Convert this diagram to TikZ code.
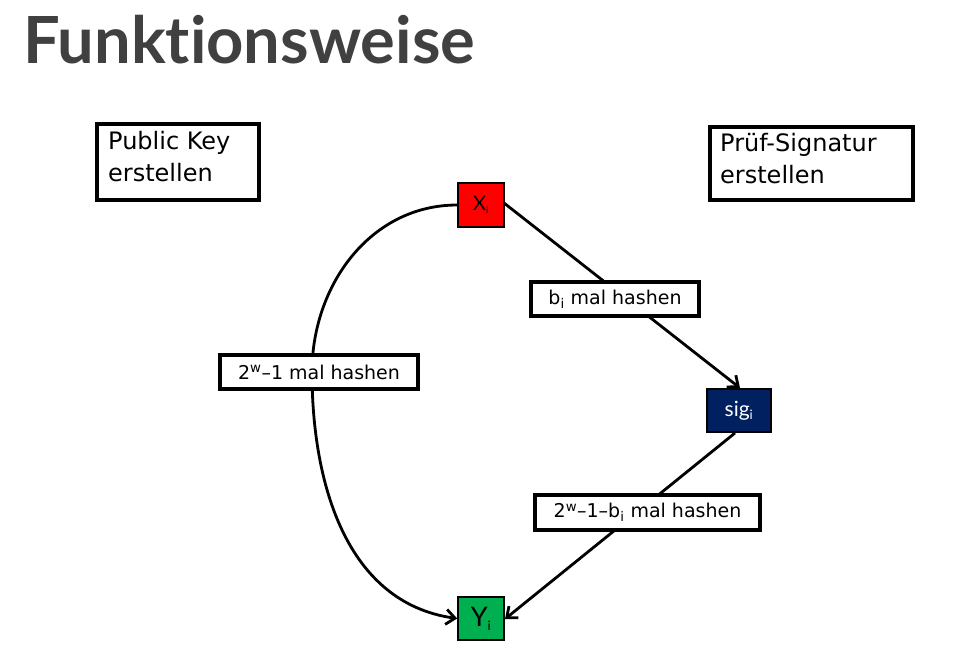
\documentclass[tikz,border=0pt]{standalone}
\usepackage{fontspec}
\setmainfont{DejaVu Sans}
\newfontfamily\titlefont{Lato}[Ligatures=NoCommon]
\newfontfamily\valfont{Lato}
\usetikzlibrary{arrows.meta}
\definecolor{xred}{RGB}{255,0,0}
\definecolor{ygreen}{RGB}{0,176,80}
\definecolor{signavy}{RGB}{0,32,96}
\definecolor{titlegray}{RGB}{64,64,64}
\tikzset{
  infobox/.style={draw=black, line width=4pt, fill=white, inner sep=0pt, anchor=north west},
  infotext/.style={anchor=base west, align=left, inner sep=0pt, font=\fontsize{24}{32.5}\selectfont},
  labelbox/.style={draw=black, line width=4pt, fill=white, inner sep=0pt,
    font=\fontsize{19}{22}\selectfont},
  valbox/.style={draw=black, line width=1.6pt, inner sep=0pt},
  conn/.style={line width=2.8pt, -{Straight Barb[length=9pt,width=15pt,line width=2.8pt]}},
}
\begin{document}
\begin{tikzpicture}[x=1pt,y=-1pt]
\useasboundingbox (0,0) rectangle (978,659);
% title
\node[anchor=base west, text=titlegray, font=\titlefont\bfseries\fontsize{65}{70}\selectfont, inner sep=0pt] (title) at (23,63) {Funktionsweise};
% info boxes
\node[infobox, minimum width=162pt, minimum height=76pt] (pk) at (95,122) {};
\node[infotext] (pkt) at (108,181.5) {Public Key\\erstellen};
\node[infobox, minimum width=203pt, minimum height=73pt] (ps) at (708,125) {};
\node[infotext] (pst) at (720,183.5) {Prüf-Signatur\\erstellen};
% value nodes
\node[valbox, fill=xred, minimum width=46pt, minimum height=44pt, font=\valfont\fontsize{20}{20}\selectfont] (x) at (481,205) {X\textsubscript{\fontsize{9}{9}\selectfont i}};
\node[valbox, fill=signavy, text=white, minimum width=64pt, minimum height=43pt, font=\valfont\fontsize{21}{20}\selectfont] (sig) at (739,410.5) {sig\textsubscript{\fontsize{13}{13}\selectfont i}};
\node[valbox, fill=ygreen, minimum width=46pt, minimum height=43pt, font=\valfont\fontsize{27}{28}\selectfont] (y) at (481,618.5) {Y\textsubscript{\fontsize{13}{13}\selectfont i}};
% connectors
\coordinate (xout) at (504,203);
\coordinate (sigin) at (740,388);
\coordinate (sigout) at (735,433);
\coordinate (yin) at (505,619);
\coordinate (mid) at (312,372);
\draw[conn] (xout) -- (sigin);
\draw[conn] (sigout) -- (yin);
\draw[conn] (x.west) to[out=180,in=90] (mid) to[out=-90,in=172] (y.west);
% labels
\node[labelbox, minimum width=168pt, minimum height=34pt] (l1) at (615,299) {b\textsubscript{i} mal hashen};
\node[labelbox, minimum width=198pt, minimum height=34pt] (l2) at (319,372) {2\textsuperscript{w}–1 mal hashen};
\node[labelbox, minimum width=225pt, minimum height=35pt] (l3) at (647.5,512.5) {2\textsuperscript{w}–1–b\textsubscript{i} mal hashen};
\end{tikzpicture}
\end{document}
